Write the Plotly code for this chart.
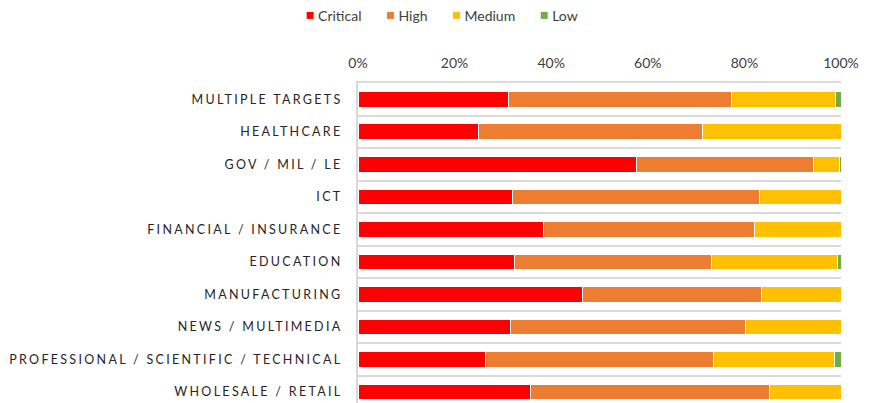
import plotly.graph_objects as go

categories = ["MULTIPLE TARGETS", "HEALTHCARE", "GOV / MIL / LE", "ICT",
              "FINANCIAL / INSURANCE", "EDUCATION", "MANUFACTURING",
              "NEWS / MULTIMEDIA", "PROFESSIONAL / SCIENTIFIC / TECHNICAL",
              "WHOLESALE / RETAIL"]
critical = [31.1, 25.0, 57.6, 31.9, 38.5, 32.4, 46.4, 31.6, 26.3, 35.8]
high     = [46.3, 46.4, 36.7, 51.2, 43.5, 40.8, 37.2, 48.7, 47.4, 49.4]
medium   = [21.4, 28.6, 5.4, 16.9, 18.0, 26.1, 16.4, 19.7, 24.9, 14.8]
low      = [1.2, 0.0, 0.3, 0.0, 0.0, 0.7, 0.0, 0.0, 1.4, 0.0]
x_ticks = [0, 20, 40, 60, 80, 100]
x_tick_labels = ["0%", "20%", "40%", "60%", "80%", "100%"]

series = [("Critical", critical, "#FF0000"),
          ("High", high, "#ED7D31"),
          ("Medium", medium, "#FFC000"),
          ("Low", low, "#70AD47")]

fig = go.Figure()
for name, vals, col in series:
    fig.add_trace(go.Bar(
        y=categories, x=vals, name=name, orientation="h",
        marker=dict(color=col, line=dict(color="white", width=1)),
    ))

fig.update_layout(
    barmode="stack",
    bargap=0.52,
    width=869, height=403,
    margin=dict(l=358, r=28, t=83, b=0, autoexpand=False),
    paper_bgcolor="white", plot_bgcolor="white",
    font=dict(family="Lato, 'Open Sans', sans-serif", color="#404040", size=14),
    legend=dict(orientation="h", x=0.2, xanchor="center", y=1.21, yanchor="middle",
                font=dict(size=14, color="#404040"), traceorder="normal",
                itemwidth=30, tracegroupgap=0),
    showlegend=True,
)
fig.update_xaxes(
    side="top", range=[0, 100], tickvals=x_ticks, ticktext=x_tick_labels,
    showgrid=False, zeroline=False, ticks="", ticklabelstandoff=8,
    showline=True, linecolor="#d9d9d9", linewidth=1.5,
    tickfont=dict(size=14, color="#404040"), fixedrange=True,
)
fig.update_yaxes(
    categoryorder="array", categoryarray=categories,
    range=[9.34, -0.5], tickson="boundaries", showgrid=True,
    gridcolor="#d9d9d9", gridwidth=1.5, ticks="",
    showline=True, linecolor="#d9d9d9", linewidth=2,
    ticklabelstandoff=11, zeroline=False,
    tickfont=dict(size=12.5, color="#262626"), fixedrange=True,
)

post = """
document.body.style.margin='0';
document.querySelectorAll('.ytick text').forEach(function(t){
  t.style.letterSpacing='2.3px';
});
document.querySelectorAll('.legend .legendpoints path').forEach(function(p){
  var d = p.getAttribute('d') || '';
  if (d.indexOf('M6,6H-6V-6H6Z') === 0) { p.setAttribute('d', 'M4,4H-4V-4H4Z'); }
});
document.querySelectorAll('.legendtext').forEach(function(t){
  t.setAttribute('x', 28);
});
document.querySelectorAll('.legend .traces').forEach(function(g, i){
  var tr = g.getAttribute('transform') || '';
  var m = tr.match(/translate\\(([-\\d.]+)[ ,]+([-\\d.]+)\\)/);
  if (m) {
    g.setAttribute('transform', 'translate(' + (parseFloat(m[1]) - 8*i) + ',' + m[2] + ')');
  }
});
"""
fig.write_html("out.html", post_script=post, config={"displayModeBar": False})
